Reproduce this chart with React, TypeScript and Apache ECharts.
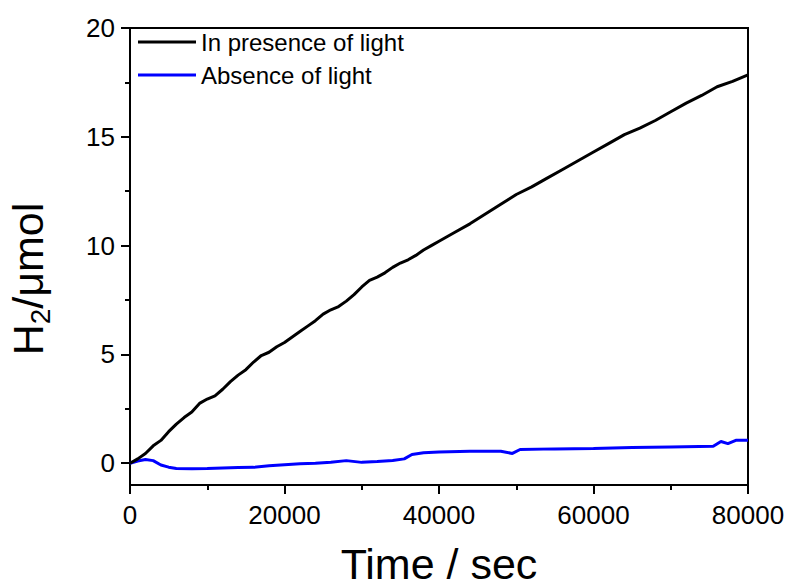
import React, { useEffect, useRef } from "react";
import * as echarts from "echarts";

const seriesNames = ["In presence of light", "Absence of light"];

const timeLight = [0, 1000, 2000, 3000, 4000, 5000, 6000, 7000, 8000, 9000, 10000, 11000, 12000, 13000, 14000, 15000, 16000, 17000, 18000, 19000, 20000, 21000, 22000, 23000, 24000, 25000, 26000, 27000, 28000, 29000, 30000, 31000, 32000, 33000, 34000, 35000, 36000, 37000, 38000, 39000, 40000, 42000, 44000, 46000, 48000, 50000, 52000, 54000, 56000, 58000, 60000, 62000, 64000, 66000, 68000, 70000, 72000, 74000, 76000, 78000, 80000];
const h2Light = [0, 0.2, 0.45, 0.8, 1.05, 1.45, 1.8, 2.1, 2.35, 2.75, 2.95, 3.1, 3.4, 3.75, 4.05, 4.3, 4.65, 4.95, 5.1, 5.35, 5.55, 5.8, 6.05, 6.3, 6.55, 6.85, 7.05, 7.2, 7.45, 7.75, 8.1, 8.4, 8.55, 8.75, 9.0, 9.2, 9.35, 9.55, 9.8, 10.0, 10.2, 10.6, 11.0, 11.45, 11.9, 12.35, 12.7, 13.1, 13.5, 13.9, 14.3, 14.7, 15.1, 15.4, 15.75, 16.15, 16.55, 16.9, 17.3, 17.55, 17.85];

const timeDark = [0, 1000, 2000, 3000, 4000, 5000, 6000, 8000, 10000, 12000, 14000, 16000, 18000, 20000, 22000, 24000, 26000, 28000, 30000, 32000, 34000, 35500, 36500, 38000, 40000, 44000, 48000, 49500, 50500, 55000, 60000, 65000, 70000, 75500, 76500, 77400, 78500, 80000];
const h2Dark = [0, 0.1, 0.17, 0.12, -0.08, -0.18, -0.24, -0.25, -0.24, -0.22, -0.2, -0.19, -0.12, -0.07, -0.02, 0.0, 0.05, 0.12, 0.04, 0.08, 0.13, 0.2, 0.4, 0.48, 0.52, 0.55, 0.55, 0.45, 0.63, 0.66, 0.68, 0.72, 0.75, 0.78, 1.0, 0.9, 1.06, 1.06];

const xTicks = [0, 20000, 40000, 60000, 80000];
const yTicks = [0, 5, 10, 15, 20];
const yMinorTicks = [2.5, 7.5, 12.5, 17.5];

const FONT = "'Liberation Sans', Arial, sans-serif";

export default function App() {
  const ref = useRef<HTMLDivElement>(null);
  useEffect(() => {
    document.body.style.margin = "0";
    if (!ref.current) return;
    const chart = echarts.init(ref.current, null, { renderer: "svg" });
    const lightData = timeLight.map((t, i) => [t, h2Light[i]]);
    const darkData = timeDark.map((t, i) => [t, h2Dark[i]]);
    chart.setOption({
      animation: false,
      backgroundColor: "#ffffff",
      grid: {
        left: 130,
        top: 28,
        right: 44,
        bottom: 102,
        containLabel: false,
        outerBoundsMode: "none",
        show: true,
        borderColor: "#000",
        borderWidth: 2,
        backgroundColor: "transparent",
      },
      legend: {
        orient: "vertical",
        left: 133,
        top: 25,
        itemWidth: 58,
        itemHeight: 3,
        itemGap: 9,
        icon: "rect",
        textStyle: { fontFamily: FONT, fontSize: 24, color: "#000" },
        data: seriesNames,
      },
      xAxis: {
        type: "value",
        min: xTicks[0],
        max: xTicks[xTicks.length - 1],
        interval: 20000,
        name: "Time / sec",
        nameLocation: "middle",
        nameGap: 57,
        nameTextStyle: { fontFamily: FONT, fontSize: 43, lineHeight: 43, color: "#000" },
        axisLine: { show: true, onZero: false, lineStyle: { color: "#000", width: 2 } },
        axisTick: { show: true, inside: false, length: 9, lineStyle: { color: "#000", width: 2 } },
        minorTick: { show: true, splitNumber: 2, length: 5, lineStyle: { color: "#000", width: 2 } },
        axisLabel: {
          fontFamily: FONT,
          fontSize: 26,
          color: "#000",
          margin: 17,
          formatter: (v: number) => String(v),
        },
        splitLine: { show: false },
      },
      yAxis: [
        {
          type: "value",
          min: -1,
          max: 20,
          position: "left",
          axisLine: { show: true, onZero: false, lineStyle: { color: "#000", width: 2 } },
          axisTick: { show: true, inside: false, length: 9, customValues: yTicks, lineStyle: { color: "#000", width: 2 } },
          axisLabel: { fontFamily: FONT, fontSize: 26, color: "#000", margin: 15, customValues: yTicks },
          splitLine: { show: false },
        },
        {
          type: "value",
          min: -1,
          max: 20,
          position: "left",
          axisLine: { show: false, onZero: false },
          axisTick: { show: true, inside: false, length: 5, customValues: yMinorTicks, lineStyle: { color: "#000", width: 2 } },
          axisLabel: { show: false, customValues: yMinorTicks },
          splitLine: { show: false },
        },
      ],
      graphic: [
        {
          type: "text",
          x: 28,
          y: 279,
          rotation: Math.PI / 2,
          style: {
            text: "{a|H}{b|2}{a|/μmol}",
            textAlign: "center",
            textVerticalAlign: "middle",
            rich: {
              a: { fontFamily: FONT, fontSize: 43, fill: "#000", color: "#000" },
              b: { fontFamily: FONT, fontSize: 28, fill: "#000", color: "#000", verticalAlign: "bottom", padding: [24, 0, 0, 0] },
            },
          },
        },
      ],
      series: [
        {
          name: seriesNames[0],
          type: "line",
          data: lightData,
          showSymbol: false,
          symbol: "none",
          lineStyle: { color: "#000000", width: 3 },
          itemStyle: { color: "#000000" },
          z: 3,
        },
        {
          name: seriesNames[1],
          type: "line",
          data: darkData,
          showSymbol: false,
          symbol: "none",
          lineStyle: { color: "#0000ff", width: 3 },
          itemStyle: { color: "#0000ff" },
          z: 2,
        },
      ],
    });
    return () => chart.dispose();
  }, []);
  return <div ref={ref} style={{ width: 792, height: 587 }} />;
}
